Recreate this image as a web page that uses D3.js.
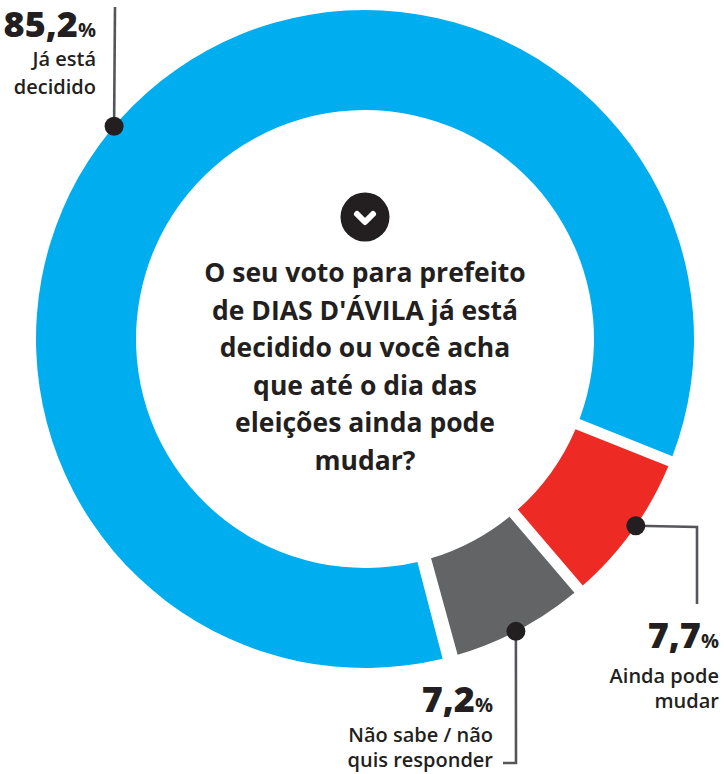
<!DOCTYPE html>
<html>
<head>
<meta charset="utf-8">
<script src="https://cdn.jsdelivr.net/npm/d3@7"></script>
<style>
  html, body { margin: 0; padding: 0; background: #fff; }
  svg { display: block; }
  text { font-family: "Open Sans", sans-serif; fill: #231f20; }
</style>
</head>
<body>
<svg id="chart" width="724" height="774"></svg>
<script>
// Data
const categories = ['Já está decidido', 'Ainda pode mudar', 'Não sabe / não quis responder'];
const values = [85.2, 7.7, 7.2];
const valueLabels = ['85,2', '7,7', '7,2'];
const labelLines = [['Já está', 'decidido'], ['Ainda pode', 'mudar'], ['Não sabe / não', 'quis responder']];
const questionLines = [
  'O seu voto para prefeito',
  "de DIAS D'ÁVILA já está",
  'decidido ou você acha',
  'que até o dia das',
  'eleições ainda pode',
  'mudar?'
];

const colors = ['#00aeef', '#ee2a24', '#636466'];
const dark = '#231f20';

// Dimensions
const cx = 365, cy = 339;
const outerRadius = 329, innerRadius = 229;
const startDeg = 165.4;

const svg = d3.select('#chart');
const g = svg.append('g').attr('transform', `translate(${cx},${cy})`);

const pie = d3.pie()
  .sort(null)
  .startAngle(startDeg * Math.PI / 180)
  .endAngle((startDeg + 360) * Math.PI / 180);

const arc = d3.arc()
  .innerRadius(innerRadius)
  .outerRadius(outerRadius)
  .padRadius(280)
  .padAngle(0.039);

const arcs = pie(values);

// the gap after the grey slice is a bit wider in the original
const grayTrim = 0.014;

g.selectAll('path.slice')
  .data(arcs)
  .enter()
  .append('path')
  .attr('class', 'slice')
  .attr('fill', (d, i) => colors[i])
  .attr('d', (d, i) => arc(i === 2 ? { ...d, endAngle: d.endAngle - grayTrim } : d));

// Callouts: angle of the dot on the ring, then leader bends and text anchor
const callouts = [
  { angle: 310.3, bends: [[115, 7]], textX: 96, numY: 37, lineY: [66, 94] },
  { angle: 124.6, bends: [[697, 527], [697, 604]], textX: 719, numY: 648, lineY: [683, 708] },
  { angle: 152.7, bends: [[516, 763], [503, 763]], textX: 493, numY: 712, lineY: [742, 767] }
];

const leader = d3.line();

callouts.forEach((c, i) => {
  const a = (c.angle - 90) * Math.PI / 180;
  const dotX = cx + outerRadius * Math.cos(a);
  const dotY = cy + outerRadius * Math.sin(a);

  svg.append('path')
    .attr('d', leader([[dotX, dotY], ...c.bends]))
    .attr('fill', 'none')
    .attr('stroke', '#55565a')
    .attr('stroke-width', 2.6);

  svg.append('circle')
    .attr('cx', dotX)
    .attr('cy', dotY)
    .attr('r', 9.5)
    .attr('fill', dark);

  const num = svg.append('text')
    .attr('x', c.textX)
    .attr('y', c.numY)
    .attr('text-anchor', 'end')
    .attr('font-weight', 800)
    .attr('font-size', 36);
  num.append('tspan').text(valueLabels[i]);
  num.append('tspan').attr('font-size', 20).attr('font-weight', 700).text('%');

  labelLines[i].forEach((line, j) => {
    svg.append('text')
      .attr('x', c.textX)
      .attr('y', c.lineY[j])
      .attr('text-anchor', 'end')
      .attr('font-size', 20)
      .attr('font-weight', 600)
      .text(line);
  });
});

// Icon above the question
svg.append('circle')
  .attr('cx', cx)
  .attr('cy', 217)
  .attr('r', 24.5)
  .attr('fill', dark);

svg.append('path')
  .attr('d', leader([[cx - 8, 214], [cx, 222], [cx + 8, 214]]))
  .attr('fill', 'none')
  .attr('stroke', '#fff')
  .attr('stroke-width', 6)
  .attr('stroke-linejoin', 'round')
  .attr('stroke-linecap', 'round');

// Question text
svg.selectAll('text.question')
  .data(questionLines)
  .enter()
  .append('text')
  .attr('class', 'question')
  .attr('x', cx)
  .attr('y', (d, i) => 282 + i * 37.6)
  .attr('text-anchor', 'middle')
  .attr('font-size', 26.5)
  .attr('font-weight', 700)
  .text(d => d);
</script>
</body>
</html>
